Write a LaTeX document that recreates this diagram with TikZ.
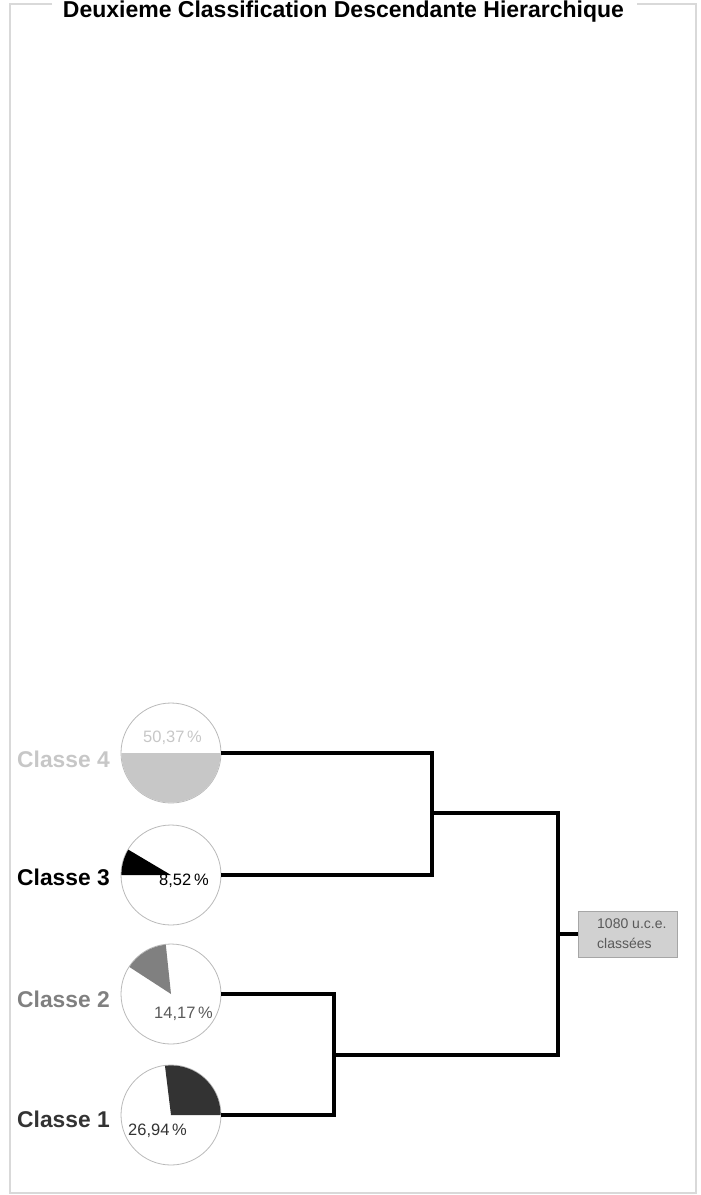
\documentclass[tikz,border=0pt]{standalone}
\usepackage{fontspec}
\setmainfont{Liberation Sans}
\begin{document}
\begin{tikzpicture}[x=1pt,y=1pt,
  pie/.style={circle,draw=gray!55,line width=0.8,minimum size=100,inner sep=0},
  conn/.style={line width=3.2,black},
  classlbl/.style={anchor=base west,inner sep=0,font=\fontsize{22.8}{24}\selectfont\bfseries},
  pct/.style={anchor=base west,inner sep=0,font=\fontsize{16.5}{18}\selectfont},
  boxtxt/.style={anchor=base west,inner sep=0,text=black!65,font=\fontsize{14}{15}\selectfont},
  frame/.style={draw=black!15,line width=1.2}
]
\useasboundingbox (0,0) rectangle (701,-1195);
% frame
\draw[frame] (52,-4) -- (10,-4) -- (10,-1193) -- (696,-1193) -- (696,-4) -- (637,-4);
\node[anchor=base,inner sep=0,font=\fontsize{23}{25}\selectfont\bfseries] (title) at (343.5,-17) {Deuxieme Classification Descendante Hierarchique};
% pies
\node[pie] (p4) at (171,-753) {};
\node[pie] (p3) at (171,-875) {};
\node[pie] (p2) at (171,-994) {};
\node[pie] (p1) at (171,-1115) {};
\fill[black!22] (p4.center) -- ++(180:49.6) arc[start angle=180,end angle=360,radius=49.6] -- cycle;
\fill[black] (p3.center) -- ++(149.3:49.6) arc[start angle=149.3,end angle=180,radius=49.6] -- cycle;
\fill[black!50] (p2.center) -- ++(96:49.6) arc[start angle=96,end angle=147,radius=49.6] -- cycle;
\fill[black!80] (p1.center) -- ++(0:49.6) arc[start angle=0,end angle=97,radius=49.6] -- cycle;
% labels
\node[classlbl,text=black!22] (l4) at (17,-767) {Classe 4};
\node[classlbl,text=black] (l3) at (17,-885) {Classe 3};
\node[classlbl,text=black!50] (l2) at (17,-1007) {Classe 2};
\node[classlbl,text=black!80] (l1) at (17,-1127) {Classe 1};
\node[pct,text=black!22] (t4) at (143,-742) {50,37\,\%};
\node[pct,text=black] (t3) at (159,-885) {8,52\,\%};
\node[pct,text=black!65] (t2) at (154,-1018) {14,17\,\%};
\node[pct,text=black!80] (t1) at (128,-1135) {26,94\,\%};
% box
\node[draw=black!35,fill=black!18,minimum width=99,minimum height=46,inner sep=0,anchor=north west] (box) at (578,-911) {};
\node[boxtxt] (b1) at (597,-928) {1080 u.c.e.};
\node[boxtxt] (b2) at (597,-948) {classées};
% dendrogram
\coordinate (j34) at (432,-813);
\coordinate (j12) at (334,-1055);
\coordinate (root) at (558,-934);
\draw[conn] (p4.east) -| (j34) |- (p3.east);
\draw[conn] (p2.east) -| (j12) |- (p1.east);
\draw[conn] (j34) -| (root) |- (j12);
\draw[conn] (root) -- (box.west |- root);
\end{tikzpicture}
\end{document}
